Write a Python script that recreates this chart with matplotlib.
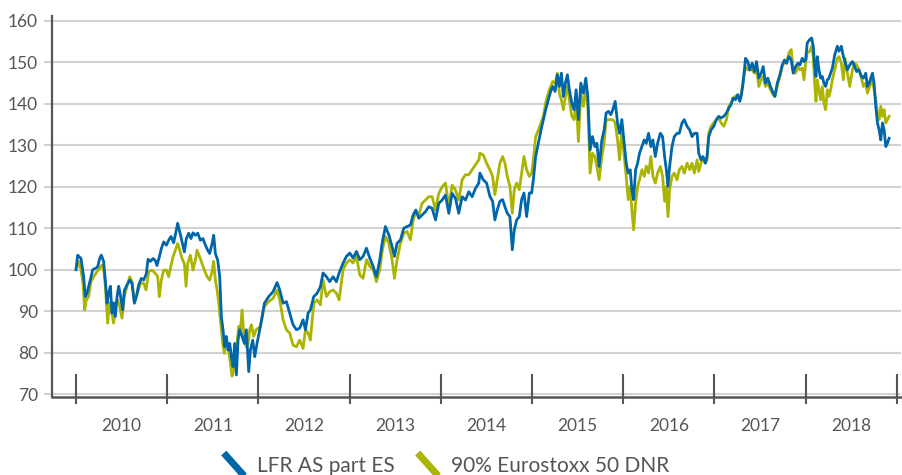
import numpy as np
import matplotlib

matplotlib.use("Agg")
import matplotlib.pyplot as plt
from matplotlib.legend_handler import HandlerBase
from matplotlib.lines import Line2D

plt.rcParams["font.family"] = ["Lato", "DejaVu Sans"]

BLUE = "#0066aa"
OLIVE = "#abb400"
DARK = "#555555"
GRID = "#d2d2d2"

labels = ["LFR AS part ES", "90% Eurostoxx 50 DNR"]
years = list(range(2010, 2019))

# 2010-2011, read per series (years since 1 Jan 2010)
lfr_t_a = [0.000, 0.018, 0.055, 0.084, 0.102, 0.121, 0.139, 0.157, 0.183, 0.212,
           0.238, 0.260, 0.278, 0.303, 0.322, 0.340, 0.358, 0.377, 0.395, 0.413,
           0.431, 0.450, 0.468, 0.486, 0.512, 0.530, 0.559, 0.589, 0.614, 0.640,
           0.662, 0.687, 0.717, 0.742, 0.771, 0.790, 0.815, 0.845, 0.870, 0.888,
           0.914, 0.936, 0.962, 0.991, 1.016, 1.042, 1.071, 1.097, 1.115, 1.137,
           1.163, 1.188, 1.210, 1.236, 1.261, 1.283, 1.309, 1.335, 1.364, 1.393,
           1.419, 1.444, 1.466, 1.492, 1.510, 1.528, 1.554, 1.576, 1.594, 1.612,
           1.631, 1.649, 1.667, 1.686, 1.704, 1.722, 1.740, 1.759, 1.777, 1.795,
           1.821, 1.846, 1.868, 1.894, 1.912, 1.938, 1.960, 1.985]
lfr_a = [100.0, 103.5, 102.7, 98.3, 93.5, 94.3, 96.0, 97.5, 100.0, 100.3,
         100.7, 102.7, 103.5, 102.0, 97.5, 91.9, 94.3, 96.0, 89.5, 92.0,
         88.7, 93.5, 96.0, 93.9, 90.3, 95.0, 96.3, 97.5, 96.7, 91.9,
         93.5, 96.3, 97.9, 97.5, 99.0, 102.5, 102.0, 102.7, 102.2, 101.0,
         103.1, 105.1, 106.7, 105.9, 107.1, 108.0, 106.5, 109.2, 111.2, 109.2,
         106.7, 104.3, 107.5, 108.8, 107.5, 108.9, 108.3, 108.8, 107.1, 107.5,
         105.9, 104.7, 103.9, 106.3, 108.3, 103.9, 102.3, 98.3, 88.7, 85.5,
         81.4, 83.9, 80.6, 82.2, 79.0, 76.6, 82.2, 74.6, 83.0, 85.5,
         83.9, 82.2, 85.5, 75.4, 80.6, 83.0, 79.0, 82.2]

euro_t_a = [0.000, 0.029, 0.055, 0.077, 0.095, 0.113, 0.139, 0.165, 0.194, 0.230,
            0.260, 0.285, 0.303, 0.322, 0.347, 0.369, 0.395, 0.413, 0.431, 0.457,
            0.479, 0.505, 0.530, 0.559, 0.589, 0.614, 0.640, 0.669, 0.706, 0.742,
            0.768, 0.797, 0.834, 0.870, 0.896, 0.914, 0.936, 0.962, 0.991, 1.016,
            1.035, 1.064, 1.090, 1.115, 1.137, 1.163, 1.188, 1.207, 1.225, 1.254,
            1.283, 1.309, 1.327, 1.356, 1.382, 1.408, 1.437, 1.466, 1.492, 1.510,
            1.528, 1.547, 1.565, 1.583, 1.609, 1.627, 1.645, 1.667, 1.693, 1.711,
            1.729, 1.748, 1.766, 1.784, 1.803, 1.821, 1.839, 1.865, 1.887, 1.905,
            1.923, 1.949, 1.974]
euro_a = [100.0, 102.0, 99.9, 96.7, 90.3, 92.7, 93.5, 97.1, 98.3, 99.5,
          100.3, 101.1, 99.9, 96.0, 87.1, 92.0, 89.5, 87.1, 91.1, 92.7,
          91.1, 88.3, 93.5, 96.0, 98.3, 97.1, 92.3, 93.9, 96.7, 96.7,
          95.1, 99.5, 99.9, 99.1, 98.3, 93.5, 97.5, 99.9, 99.9, 98.3,
          100.3, 103.1, 104.7, 106.3, 104.7, 102.7, 101.5, 96.0, 101.5, 103.5,
          99.9, 102.3, 104.7, 103.1, 101.5, 99.9, 98.3, 97.5, 99.5, 102.0,
          97.5, 95.1, 92.0, 87.9, 82.2, 79.8, 83.0, 81.4, 77.4, 74.3,
          75.8, 79.0, 82.2, 86.3, 85.5, 90.3, 84.7, 81.4, 82.2, 85.5,
          86.7, 83.9, 85.5]

# 2012 to end of 2018, same dates for both series (years since 1 Jan 2012)
t_b = [0.022, 0.066, 0.113, 0.161, 0.205, 0.234, 0.271, 0.307, 0.344, 0.380,
       0.417, 0.453, 0.490, 0.516, 0.545, 0.570, 0.607, 0.644, 0.680, 0.709,
       0.746, 0.782, 0.819, 0.856, 0.885, 0.929, 0.965, 1.002, 1.038, 1.075,
       1.112, 1.148, 1.185, 1.221, 1.258, 1.294, 1.331, 1.360, 1.393, 1.430,
       1.466, 1.492, 1.521, 1.558, 1.594, 1.631, 1.667, 1.697, 1.726, 1.759,
       1.795, 1.832, 1.868, 1.905, 1.942, 1.978, 2.015, 2.051, 2.088, 2.124,
       2.161, 2.197, 2.234, 2.271, 2.307, 2.344, 2.380, 2.417, 2.429, 2.465,
       2.502, 2.538, 2.568, 2.593, 2.619, 2.648, 2.678, 2.703, 2.729, 2.758,
       2.784, 2.806, 2.832, 2.861, 2.886, 2.912, 2.941, 2.971, 2.996, 3.015,
       3.040, 3.070, 3.099, 3.125, 3.150, 3.179, 3.205, 3.227, 3.253, 3.278,
       3.300, 3.322, 3.344, 3.366, 3.388, 3.410, 3.436, 3.462, 3.484, 3.509,
       3.535, 3.564, 3.590, 3.612, 3.637, 3.663, 3.689, 3.711, 3.736, 3.766,
       3.791, 3.813, 3.839, 3.864, 3.886, 3.912, 3.938, 3.960, 3.985, 4.011,
       4.033, 4.055, 4.077, 4.095, 4.114, 4.136, 4.158, 4.179, 4.205, 4.231,
       4.253, 4.278, 4.304, 4.326, 4.352, 4.377, 4.407, 4.432, 4.454, 4.473,
       4.491, 4.509, 4.535, 4.560, 4.590, 4.615, 4.645, 4.670, 4.700, 4.729,
       4.755, 4.780, 4.810, 4.828, 4.853, 4.875, 4.901, 4.919, 4.938, 4.963,
       4.993, 5.022, 5.048, 5.073, 5.103, 5.132, 5.158, 5.183, 5.205, 5.231,
       5.256, 5.278, 5.293, 5.315, 5.341, 5.366, 5.388, 5.414, 5.440, 5.462,
       5.487, 5.513, 5.535, 5.560, 5.586, 5.615, 5.645, 5.663, 5.689, 5.718,
       5.744, 5.769, 5.791, 5.817, 5.842, 5.864, 5.890, 5.916, 5.938, 5.963,
       5.982, 6.000, 6.018, 6.044, 6.066, 6.084, 6.099, 6.114, 6.128, 6.147,
       6.165, 6.183, 6.201, 6.220, 6.238, 6.256, 6.275, 6.293, 6.319, 6.348,
       6.366, 6.392, 6.414, 6.432, 6.458, 6.484, 6.513, 6.538, 6.560, 6.586,
       6.612, 6.634, 6.659, 6.678, 6.703, 6.733, 6.751, 6.769, 6.788, 6.806,
       6.824, 6.843, 6.861, 6.879, 6.897, 6.916]
lfr_b = [86.3, 91.9, 93.5, 94.7, 96.9, 95.1, 91.9, 92.3, 89.5, 86.7,
         85.5, 85.9, 87.9, 85.5, 89.5, 90.3, 93.5, 94.3, 95.9, 99.2,
         98.3, 97.1, 98.3, 97.1, 99.2, 101.6, 103.2, 104.0, 102.8, 104.4,
         102.4, 103.2, 105.2, 102.8, 100.8, 98.3, 102.4, 106.8, 110.4, 108.4,
         105.6, 103.2, 106.4, 107.2, 110.0, 110.4, 110.8, 113.2, 114.4, 112.4,
         113.2, 114.0, 115.2, 114.8, 112.0, 116.0, 116.8, 118.0, 113.6, 118.4,
         117.2, 113.6, 117.6, 116.8, 118.8, 117.6, 119.6, 120.9, 123.3, 121.7,
         120.9, 117.7, 116.5, 112.0, 114.4, 116.5, 116.9, 115.2, 113.6, 112.8,
         104.8, 109.6, 112.0, 112.8, 116.9, 118.5, 112.8, 118.5, 118.5, 121.7,
         127.3, 130.5, 133.7, 136.2, 138.6, 141.0, 143.0, 144.2, 143.0, 147.0,
         144.2, 147.4, 141.8, 145.0, 147.0, 143.4, 140.2, 138.6, 143.4, 136.2,
         145.0, 142.6, 146.2, 141.8, 128.9, 132.1, 129.7, 130.5, 124.9, 131.3,
         133.7, 137.8, 138.2, 137.4, 138.6, 140.6, 135.4, 132.9, 136.2, 130.5,
         125.7, 123.3, 124.1, 119.3, 116.9, 124.1, 125.7, 128.1, 129.7, 131.3,
         130.5, 132.9, 129.7, 131.3, 127.3, 130.5, 132.9, 132.1, 127.3, 124.1,
         120.1, 124.9, 129.7, 132.1, 132.9, 132.9, 135.4, 136.2, 134.6, 133.7,
         132.1, 132.9, 132.9, 128.1, 126.5, 127.3, 125.7, 127.3, 132.1, 133.7,
         134.6, 136.2, 137.0, 136.6, 137.0, 137.8, 139.0, 139.8, 141.4, 141.0,
         142.2, 140.6, 141.8, 145.0, 151.0, 150.2, 148.2, 149.8, 147.8, 150.2,
         146.2, 147.4, 149.0, 145.0, 146.2, 144.2, 142.6, 141.8, 145.0, 147.0,
         149.4, 150.6, 149.8, 151.4, 150.6, 147.4, 149.0, 149.8, 149.4, 151.0,
         150.2, 150.6, 154.7, 155.5, 155.9, 153.9, 149.0, 146.6, 151.4, 148.2,
         146.2, 146.6, 145.0, 144.2, 145.8, 146.2, 147.4, 148.6, 151.8, 153.9,
         152.7, 153.9, 151.4, 150.2, 148.2, 149.4, 150.2, 149.0, 147.8, 148.2,
         146.6, 146.2, 147.4, 144.2, 145.4, 147.4, 145.0, 139.4, 135.4, 133.7,
         131.3, 135.4, 133.7, 129.7, 130.5, 131.7]
euro_b = [86.3, 91.1, 92.3, 93.1, 95.1, 92.7, 87.9, 85.5, 84.7, 81.8,
          81.4, 83.0, 81.0, 85.5, 84.7, 83.0, 91.9, 92.7, 91.5, 97.5,
          93.5, 94.7, 95.1, 94.3, 92.7, 100.0, 101.6, 102.4, 101.6, 103.2,
          98.7, 97.9, 102.4, 100.8, 100.0, 97.1, 100.0, 104.8, 108.0, 106.4,
          102.4, 97.9, 102.4, 106.4, 108.8, 109.2, 107.2, 112.0, 114.0, 113.2,
          116.0, 116.8, 117.6, 117.6, 114.4, 118.4, 120.0, 120.9, 115.2, 120.4,
          119.2, 116.8, 121.7, 122.9, 122.9, 124.1, 125.3, 126.5, 128.1, 127.7,
          125.7, 124.1, 122.5, 118.1, 121.7, 125.7, 127.3, 125.7, 122.5, 120.1,
          113.6, 119.3, 120.9, 119.3, 123.3, 127.3, 124.1, 122.5, 123.3, 126.5,
          132.1, 133.7, 135.4, 137.0, 140.2, 142.6, 144.2, 145.4, 145.0, 147.4,
          142.6, 141.0, 138.6, 141.8, 144.2, 141.0, 137.0, 136.2, 141.0, 130.9,
          142.6, 139.4, 144.2, 139.4, 123.3, 128.1, 127.3, 124.9, 121.7, 127.3,
          130.5, 136.2, 136.2, 136.2, 136.2, 135.4, 131.3, 126.5, 133.7, 127.3,
          122.5, 116.9, 120.1, 114.4, 109.6, 116.1, 120.1, 121.7, 124.1, 122.5,
          125.0, 123.3, 127.3, 122.5, 120.9, 123.3, 124.9, 122.5, 116.5, 120.1,
          112.8, 119.3, 122.5, 123.3, 121.7, 124.1, 124.9, 123.3, 125.7, 124.1,
          125.7, 123.3, 126.5, 123.7, 125.7, 126.9, 125.7, 126.5, 132.9, 134.6,
          135.4, 136.2, 136.6, 135.4, 134.6, 136.2, 139.4, 140.2, 141.4, 141.8,
          142.2, 141.0, 142.2, 145.8, 149.0, 148.2, 148.2, 148.2, 147.4, 148.6,
          144.2, 145.8, 146.6, 144.2, 145.0, 143.4, 142.2, 141.8, 144.2, 146.6,
          149.0, 150.2, 149.8, 152.3, 153.1, 148.2, 147.4, 149.0, 148.2, 148.6,
          145.8, 149.8, 152.3, 152.7, 153.9, 151.4, 145.0, 140.6, 145.8, 143.4,
          141.0, 144.2, 140.2, 138.6, 143.4, 141.8, 143.4, 145.8, 148.2, 151.0,
          151.4, 149.8, 145.8, 151.0, 147.4, 144.2, 148.2, 149.8, 149.4, 148.2,
          146.2, 144.2, 145.0, 142.6, 144.2, 145.8, 143.4, 141.0, 137.8, 136.2,
          139.4, 137.0, 138.6, 135.4, 136.2, 137.0]

lfr_t = np.concatenate([2010 + np.array(lfr_t_a), 2012 + np.array(t_b)])
lfr = np.concatenate([lfr_a, lfr_b])
euro_t = np.concatenate([2010 + np.array(euro_t_a), 2012 + np.array(t_b)])
euro = np.concatenate([euro_a, euro_b])


class SlashHandler(HandlerBase):
    """Legend key drawn as a thick diagonal stroke."""

    def create_artists(self, legend, orig_handle, xdescent, ydescent,
                       width, height, fontsize, trans):
        x0, x1 = -xdescent, -xdescent + width
        y0, y1 = -ydescent - 0.3 * height, -ydescent + 1.3 * height
        stroke = Line2D([x0, x1], [y1, y0], color=orig_handle.get_color(),
                        lw=5, solid_capstyle="butt", transform=trans)
        return [stroke]


fig = plt.figure(figsize=(9.03, 4.75), dpi=100)
ax = fig.add_axes([52 / 903, 78.5 / 475, 849 / 903, 380.5 / 475])

ax.plot(euro_t, euro, color=OLIVE, lw=2.0, zorder=3)
ax.plot(lfr_t, lfr, color=BLUE, lw=2.0, zorder=4)

ax.set_xlim(2009.737, 2019.046)
ax.set_ylim(69.4, 161.2)
ax.set_yticks(range(70, 161, 10))
ax.set_axisbelow(True)
ax.yaxis.grid(True, color=GRID, lw=1.5)
ax.tick_params(axis="y", length=6, width=1.5, color=GRID, labelcolor=DARK,
               labelsize=12.5, pad=4)

ax.set_xticks([y + 0.5 for y in years])
ax.set_xticklabels([str(y) for y in years])
ax.tick_params(axis="x", length=0, pad=15.5, labelsize=12.5, labelcolor=DARK)
# year boundary marks crossing the x axis
ax.vlines(years + [2019], -0.02, 0.059, transform=ax.get_xaxis_transform(),
          colors=DARK, lw=1.5, clip_on=False, zorder=5)

for side in ("top", "right"):
    ax.spines[side].set_visible(False)
ax.spines["left"].set_color(DARK)
ax.spines["left"].set_linewidth(1.6)
ax.spines["bottom"].set_color(DARK)
ax.spines["bottom"].set_linewidth(1.8)

handles = [Line2D([], [], color=BLUE), Line2D([], [], color=OLIVE)]
fig.legend(handles, labels, loc="upper center", bbox_to_anchor=(0.4945, 0.062),
           ncol=2, frameon=False, fontsize=15, labelcolor=DARK,
           handler_map={Line2D: SlashHandler()}, handlelength=1.0,
           handletextpad=0.6, columnspacing=1.1, borderpad=0)

fig.savefig("out.png", dpi=100)
